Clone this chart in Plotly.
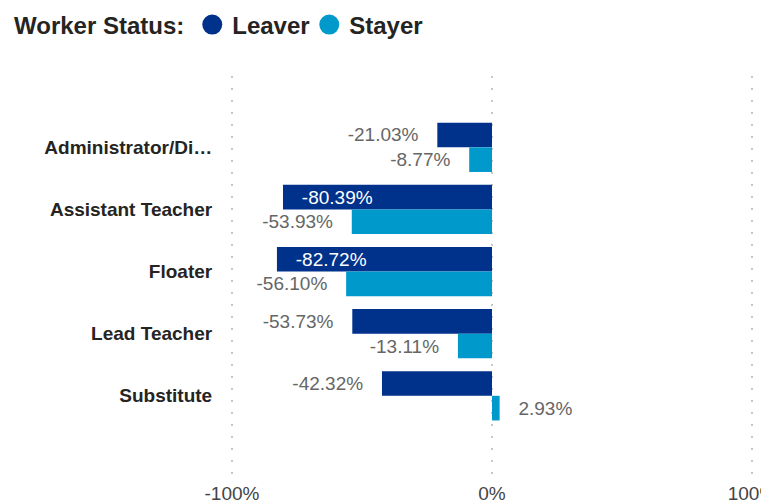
import plotly.graph_objects as go

categories = ["Administrator/Director", "Assistant Teacher", "Floater", "Lead Teacher", "Substitute"]
category_labels = ["Administrator/Di…", "Assistant Teacher", "Floater", "Lead Teacher", "Substitute"]
leaver = [-21.03, -80.39, -82.72, -53.73, -42.32]
stayer = [-8.77, -53.93, -56.10, -13.11, 2.93]
leaver_label_pos = ["outside", "inside", "inside", "outside", "outside"]
stayer_label_pos = ["outside", "outside", "outside", "outside", "outside"]
x_ticks = [-100, 0, 100]
x_tick_labels = ["-100%", "0%", "100%"]

LEAVER_C = "#00318B"
STAYER_C = "#0099CC"
PAD = "\u00a0\u00a0\u00a0"
FONT = "Liberation Sans, Arial, sans-serif"


def labels(vals, pos):
    out = []
    for v, p in zip(vals, pos):
        t = f"{v:.2f}%"
        if p == "inside":
            t = PAD + t
        elif v < 0:
            t = t + PAD
        else:
            t = PAD + t
        out.append(t)
    return out


fig = go.Figure()
for name, vals, pos, col in [("Leaver", leaver, leaver_label_pos, LEAVER_C),
                             ("Stayer", stayer, stayer_label_pos, STAYER_C)]:
    fig.add_trace(go.Bar(
        y=categories, x=vals, orientation="h", name=name,
        marker=dict(color=col, line=dict(width=0)),
        text=labels(vals, pos), textposition=pos,
        insidetextanchor="end", constraintext="none",
        outsidetextfont=dict(color="#666666", size=19, family=FONT),
        insidetextfont=dict(color="#FFFFFF", size=19, family=FONT),
        showlegend=False, hoverinfo="skip",
    ))
    fig.add_trace(go.Scatter(
        x=[None], y=[None], mode="markers", name=name,
        marker=dict(symbol="circle", size=16, color=col, line=dict(color=col, width=4)),
        showlegend=True,
    ))

# figure is offset by the page's 8px body margin
W, H = 761, 493
L, R, T, B = 221, 14, 68, 27
PW, PH = W - L - R, H - T - B

fig.update_layout(
    template="none",
    width=W, height=H,
    margin=dict(l=L, r=R, t=T, b=B, autoexpand=False),
    paper_bgcolor="white", plot_bgcolor="white",
    barmode="group", bargap=0.206, bargroupgap=0,
    font=dict(family=FONT, color="#252423"),
    legend=dict(
        orientation="h", x=(4 - L) / PW, xanchor="left",
        y=1 + (T - 17) / PH, yanchor="middle",
        title=dict(text="Worker Status:", font=dict(size=24, weight="bold", color="#252423")),
        font=dict(size=24, weight="bold", color="#252423"),
        itemwidth=30, entrywidth=72, entrywidthmode="pixels",
        bgcolor="rgba(0,0,0,0)", borderwidth=0,
    ),
    xaxis=dict(
        range=[-101.154, 101.154], tickvals=x_ticks, ticktext=x_tick_labels,
        showgrid=True, gridcolor="#C8C8C8", gridwidth=1.5, griddash="2px,10px",
        zeroline=False, showline=False,
        ticks="outside", ticklen=2, tickcolor="rgba(0,0,0,0)",
        tickfont=dict(size=19, color="#444444", family=FONT),
        ticklabeloverflow="allow",
        automargin=False, fixedrange=True,
    ),
    yaxis=dict(
        categoryorder="array", categoryarray=categories,
        tickvals=categories, ticktext=category_labels,
        range=[4 + 1.259, -1.148],
        showgrid=False, zeroline=False, showline=False,
        ticks="outside", ticklen=12, tickcolor="rgba(0,0,0,0)",
        tickfont=dict(size=19, weight="bold", color="#252423", family=FONT),
        automargin=False, fixedrange=True,
    ),
)

fig.write_html("out.html")
